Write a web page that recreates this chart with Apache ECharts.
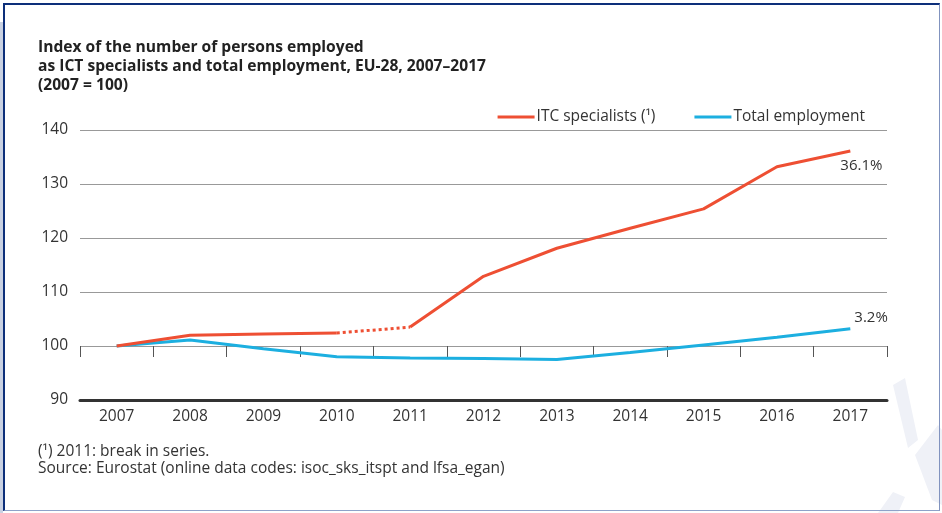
<!DOCTYPE html>
<html>
<head>
<meta charset="utf-8">
<script src="https://cdn.jsdelivr.net/npm/echarts@6/dist/echarts.min.js"></script>
<style>
  html, body { margin: 0; padding: 0; background: #fff; }
  #wrap { position: relative; width: 942px; height: 513px; overflow: hidden; background: #fff; }
  #frame { position: absolute; left: 3px; top: 3px; width: 937px; height: 508px;
           border-top: 2px solid #0d2f7a; border-left: 2px solid #0d2f7a;
           border-right: 1px solid #8193bf; border-bottom: 1px solid #8ea2c9; box-sizing: border-box; }
  #strip { position: absolute; left: 0; top: 22px; width: 3px; height: 491px; background: #c9d1e2; }
  #chart { position: absolute; left: 0; top: 0; width: 942px; height: 513px; }
</style>
</head>
<body>
<div id="wrap">
  <div id="chart"></div>
  <div id="strip"></div>
  <div id="frame"></div>
</div>
<script>
const years = ['2007','2008','2009','2010','2011','2012','2013','2014','2015','2016','2017'];
const ictSpecialists = [100, 102.0, 102.2, 102.4, 103.5, 112.9, 118.1, 121.8, 125.4, 133.2, 136.1];
const totalEmployment = [100, 101.1, 99.5, 98.0, 97.8, 97.7, 97.5, 98.8, 100.2, 101.6, 103.2];
const yTicks = [90, 100, 110, 120, 130, 140];
const endLabels = ['36.1%', '3.2%'];
const breakIndex = 4; // 2011: break in series

const RED = '#ee4f33';
const BLUE = '#1cafe0';
const FONT = '"Open Sans", Arial, sans-serif';

const ictBefore = ictSpecialists.map((v, i) => i < breakIndex ? v : null);
const ictBreak = ictSpecialists.map((v, i) => (i === breakIndex - 1 || i === breakIndex) ? v : null);
const ictAfter = ictSpecialists.map((v, i) => i >= breakIndex ? v : null);

const chart = echarts.init(document.getElementById('chart'), null, { renderer: 'canvas' });
chart.setOption({
  animation: false,
  textStyle: { fontFamily: FONT },
  title: {
    text: 'Index of the number of persons employed\nas ICT specialists and total employment, EU-28, 2007–2017\n(2007 = 100)',
    left: 38, top: 38, padding: 0,
    textStyle: { fontSize: 15.6, fontWeight: 'bold', color: '#222', lineHeight: 19, fontFamily: FONT }
  },
  legend: {
    right: 77, top: 109, padding: 0,
    itemWidth: 37, itemHeight: 3, itemGap: 39,
    icon: 'rect',
    textStyle: { fontSize: 15.5, color: '#333', padding: [0, 0, 0, -3] },
    data: ['ITC specialists (\u00b9)', 'Total employment']
  },
  graphic: [
    { type: 'text', left: 38, top: 444, style: { text: '(\u00b9) 2011: break in series.', fontSize: 15.5, fill: '#333', fontFamily: FONT } },
    { type: 'text', left: 38, top: 461, style: { text: 'Source: Eurostat (online data codes: isoc_sks_itspt and lfsa_egan)', fontSize: 15.5, fill: '#333', fontFamily: FONT } },
    { type: 'polygon', shape: { points: [[893, 385], [905, 378], [918, 440], [908, 448]] }, style: { fill: '#eff1f7' }, z: -1 },
    { type: 'polygon', shape: { points: [[915, 455], [938, 425], [942, 430], [942, 505], [932, 500]] }, style: { fill: '#eff1f7' }, z: -1 },
    { type: 'polygon', shape: { points: [[878, 513], [893, 492], [905, 497], [898, 513]] }, style: { fill: '#eff1f7' }, z: -1 }
  ],
  grid: { left: 80, right: 55, top: 130, bottom: 113 },
  xAxis: [
    {
      type: 'category', data: years, boundaryGap: true, position: 'bottom',
      axisLine: { show: true, lineStyle: { color: '#333', width: 3 } },
      axisTick: { show: false },
      axisLabel: { fontSize: 15.5, color: '#333', margin: 9 }
    },
    {
      type: 'category', data: years, boundaryGap: true, position: 'bottom', offset: -54,
      axisLine: { show: false },
      axisTick: { show: true, length: 11, lineStyle: { color: '#555', width: 1 } },
      axisLabel: { show: false }
    }
  ],
  yAxis: {
    type: 'value', min: 90, max: 140, interval: 10,
    axisLine: { show: false }, axisTick: { show: false },
    axisLabel: { fontSize: 15.5, color: '#333', margin: 12,
      formatter: v => yTicks.includes(v) ? String(v) : '' },
    splitLine: { lineStyle: { color: '#999', width: 1.2 } }
  },
  series: [
    {
      name: 'ITC specialists (\u00b9)', type: 'line', data: ictBefore, symbol: 'none',
      lineStyle: { color: RED, width: 3 }, itemStyle: { color: RED }, z: 3
    },
    {
      name: 'ITC specialists (\u00b9)', type: 'line', data: ictBreak, symbol: 'none',
      lineStyle: { color: RED, width: 3, type: [3, 3] }, itemStyle: { color: RED }, z: 3
    },
    {
      name: 'ITC specialists (\u00b9)', type: 'line', symbol: 'none', data: ictAfter,
      endLabel: { show: true, formatter: endLabels[0], offset: [-18, 15], fontSize: 15, color: '#333' },
      lineStyle: { color: RED, width: 3 }, itemStyle: { color: RED }, z: 3
    },
    {
      name: 'Total employment', type: 'line', symbol: 'none', data: totalEmployment,
      endLabel: { show: true, formatter: endLabels[1], offset: [-4, -11], fontSize: 15, color: '#333' },
      lineStyle: { color: BLUE, width: 3 }, itemStyle: { color: BLUE }, z: 2
    }
  ]
});
</script>
</body>
</html>
